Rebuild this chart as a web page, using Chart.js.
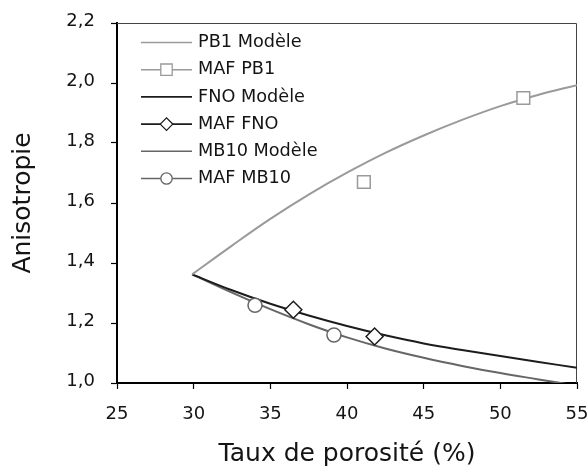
<!DOCTYPE html>
<html>
<head>
<meta charset="utf-8">
<script src="https://cdn.jsdelivr.net/npm/chart.js@4/dist/chart.umd.min.js"></script>
<style>
  html, body { margin: 0; padding: 0; background: #ffffff; }
  #c { display: block; }
</style>
</head>
<body>
<canvas id="c" width="588" height="468"></canvas>
<script>
// ---- Data ----
const modelPorosity = [29.9, 32.5, 35, 37.5, 40, 42.5, 45, 47.5, 50, 52.5, 55];
const pb1Model  = [1.362, 1.458, 1.547, 1.628, 1.701, 1.767, 1.825, 1.877, 1.923, 1.961, 1.993];
const fnoModel  = [1.362, 1.309, 1.264, 1.225, 1.190, 1.159, 1.132, 1.110, 1.090, 1.070, 1.051];
const mb10Model = [1.362, 1.301, 1.246, 1.196, 1.152, 1.115, 1.084, 1.057, 1.033, 1.012, 0.991];

const mafPb1X  = [41.1, 51.5];
const mafPb1Y  = [1.67, 1.95];
const mafFnoX  = [36.5, 41.8];
const mafFnoY  = [1.244, 1.155];
const mafMb10X = [34.0, 39.15];
const mafMb10Y = [1.259, 1.160];

const seriesNames = ['PB1 Modèle', 'MAF PB1', 'FNO Modèle', 'MAF FNO', 'MB10 Modèle', 'MAF MB10'];
const xTickLabels = ['25', '30', '35', '40', '45', '50', '55'];
const yTickLabels = ['1,0', '1,2', '1,4', '1,6', '1,8', '2,0', '2,2'];
const xTitle = 'Taux de porosité (%)';
const yTitle = 'Anisotropie';

// ---- helpers ----
const pts = (xs, ys) => xs.map((x, i) => ({ x: x, y: ys[i] }));
const FONT = 'DejaVu Sans';
const TEXT = '#141414';

const lineDs = (label, ys, color) => ({
  type: 'line', label, data: pts(modelPorosity, ys),
  borderColor: color, borderWidth: 2, pointRadius: 0, fill: false,
  tension: 0.4, order: 2,
  legendMarker: null, legendColor: color
});
const markDs = (label, xs, ys, style, radius, color, legendColor) => ({
  type: 'scatter', label, data: pts(xs, ys), showLine: false,
  pointStyle: style, pointRadius: radius, pointBorderColor: color,
  pointBackgroundColor: '#ffffff', pointBorderWidth: 1.5, order: 1,
  legendMarker: style, legendColor: legendColor, legendMarkerColor: color
});

const datasets = [
  lineDs(seriesNames[0], pb1Model, '#9a9a9a'),
  markDs(seriesNames[1], mafPb1X, mafPb1Y, 'rect', 9, '#9a9a9a', '#9a9a9a'),
  lineDs(seriesNames[2], fnoModel, '#1c1c1c'),
  markDs(seriesNames[3], mafFnoX, mafFnoY, 'rectRot', 8.5, '#1c1c1c', '#1c1c1c'),
  lineDs(seriesNames[4], mb10Model, '#666666'),
  markDs(seriesNames[5], mafMb10X, mafMb10Y, 'circle', 7, '#666666', '#666666')
];

// frame on top and right of plot area
const framePlugin = {
  id: 'frame',
  beforeDatasetsDraw(chart) {
    const { ctx, chartArea: a } = chart;
    ctx.save();
    ctx.strokeStyle = '#444444';
    ctx.lineWidth = 1;
    ctx.beginPath();
    ctx.moveTo(a.left, a.top + 0.5);
    ctx.lineTo(a.right - 0.5, a.top + 0.5);
    ctx.lineTo(a.right - 0.5, a.bottom);
    ctx.stroke();
    ctx.restore();
  }
};

// legend inside the plot area (Excel style: line sample + marker + text)
function drawMarker(ctx, style, cx, cy, r, color) {
  ctx.save();
  ctx.fillStyle = '#ffffff';
  ctx.strokeStyle = color;
  ctx.lineWidth = 1.3;
  ctx.beginPath();
  if (style === 'rect') {
    ctx.rect(cx - r, cy - r, 2 * r, 2 * r);
  } else if (style === 'rectRot') {
    ctx.moveTo(cx - r * 1.1, cy); ctx.lineTo(cx, cy - r * 1.1);
    ctx.lineTo(cx + r * 1.1, cy); ctx.lineTo(cx, cy + r * 1.1); ctx.closePath();
  } else {
    ctx.arc(cx, cy, r, 0, Math.PI * 2);
  }
  ctx.fill();
  ctx.stroke();
  ctx.restore();
}
const legendPlugin = {
  id: 'insideLegend',
  afterDraw(chart) {
    const { ctx, chartArea: a } = chart;
    const x0 = a.left + 24, x1 = a.left + 75, tx = a.left + 81;
    chart.data.datasets.forEach((ds, i) => {
      const y = a.top + 19.5 + i * 27.2;
      ctx.save();
      ctx.strokeStyle = ds.legendColor;
      ctx.lineWidth = 1.6;
      ctx.beginPath();
      ctx.moveTo(x0, y); ctx.lineTo(x1, y);
      ctx.stroke();
      if (ds.legendMarker) drawMarker(ctx, ds.legendMarker, (x0 + x1) / 2, y, 5.7, ds.legendMarkerColor);
      ctx.fillStyle = TEXT;
      ctx.font = '17.7px "' + FONT + '"';
      ctx.textBaseline = 'middle';
      ctx.textAlign = 'left';
      ctx.fillText(ds.label, tx, y);
      ctx.restore();
    });
  }
};

new Chart(document.getElementById('c'), {
  type: 'scatter',
  data: { datasets },
  options: {
    responsive: false,
    animation: false,
    layout: { padding: { top: 23, right: 11, left: 0, bottom: 0 } },
    plugins: { legend: { display: false }, tooltip: { enabled: false } },
    scales: {
      x: {
        type: 'linear', min: 25, max: 55,
        ticks: {
          stepSize: 5, color: TEXT, padding: 15,
          font: { family: FONT, size: 18 },
          callback: (v, i) => xTickLabels[i]
        },
        grid: { drawOnChartArea: false, drawTicks: true, tickLength: 6, color: '#000000', tickWidth: 1.2 },
        border: { display: true, color: '#000000', width: 2 },
        title: {
          display: true, text: xTitle, color: TEXT,
          font: { family: FONT, size: 25, lineHeight: 1 },
          padding: { top: 0, bottom: 1 }
        },
        afterFit: (s) => { s.height = 85; s.paddingLeft = 0; s.paddingRight = 0; }
      },
      y: {
        type: 'linear', min: 1.0, max: 2.2,
        ticks: {
          stepSize: 0.2, color: TEXT, padding: 16, labelOffset: -2,
          font: { family: FONT, size: 18 },
          callback: (v, i) => yTickLabels[i]
        },
        grid: { drawOnChartArea: false, drawTicks: true, tickLength: 6, color: '#000000', tickWidth: 1.2 },
        border: { display: true, color: '#000000', width: 2 },
        title: {
          display: true, text: yTitle, color: TEXT,
          font: { family: FONT, size: 25, lineHeight: 1 },
          padding: { top: 11, bottom: 0 }
        },
        afterFit: (s) => { s.width = 117; s.paddingTop = 0; s.paddingBottom = 0; }
      }
    }
  },
  plugins: [framePlugin, legendPlugin]
});
</script>
</body>
</html>
